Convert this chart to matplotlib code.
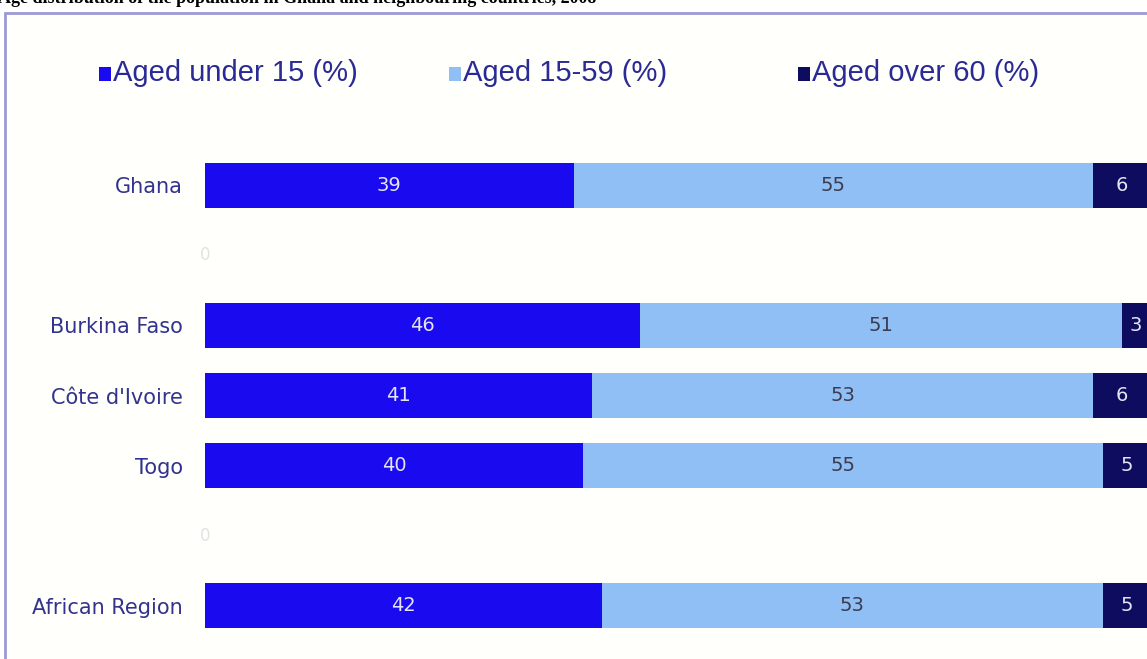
import matplotlib.pyplot as plt
from matplotlib.patches import Rectangle

# Data (blank rows are spacers in the original)
categories = ["Ghana", "", "Burkina Faso", "Côte d'Ivoire", "Togo", "", "African Region"]
under15 = [39, 0, 46, 41, 40, 0, 42]
aged15_59 = [55, 0, 51, 53, 55, 0, 53]
over60 = [6, 0, 3, 6, 5, 0, 5]
series_names = ["Aged under 15 (%)", "Aged 15-59 (%)", "Aged over 60 (%)"]
title = "Age distribution of the population in Ghana and neighbouring countries, 2008"

colors = ["#1a0af0", "#8fbff4", "#0e0c5e"]
value_colors = ["#e4e4f2", "#3c3c50", "#e4e4f2"]
label_color = "#2a2a96"

W, H = 1147, 659
fig = plt.figure(figsize=(W / 100, H / 100), dpi=100)
fig.patch.set_facecolor("white")

# chart frame (light purple border, cut by the image edges)
fig.patches.append(Rectangle((5 / W, -0.05), 1.1, 1 - 13 / H + 0.05, transform=fig.transFigure,
                             facecolor="#fffffb", edgecolor="#9c9ad6", lw=2.0, zorder=-5))

# title is cut by the top edge in the original too
fig.text(-2 / W, 1 - 3 / H, title, ha="left", va="baseline", fontsize=13,
         fontweight="bold", family="Liberation Serif", color="black")

ax = fig.add_axes([205 / W, 1 - 641 / H, 945 / W, 491 / H])
ax.set_zorder(5)
ax.set_facecolor("none")
ax.set_xlim(0, 100)
ax.set_ylim(len(categories) - 0.5, -0.5)

ypos = list(range(len(categories)))
h = 0.64
lefts = [0] * len(categories)
for vals, col, tcol in zip([under15, aged15_59, over60], colors, value_colors):
    bars = ax.barh(ypos, vals, left=lefts, height=h, color=col, edgecolor="none")
    for b, v in zip(bars, vals):
        if v > 0:
            ax.text(b.get_x() + b.get_width() / 2, b.get_y() + b.get_height() / 2, str(v),
                    ha="center", va="center", color=tcol, fontsize=14,
                    family="DejaVu Sans")
    lefts = [l + v for l, v in zip(lefts, vals)]

# faint zero labels on the spacer rows
for y, tot in zip(ypos, lefts):
    if tot == 0:
        ax.text(0, y, "0", ha="center", va="center", color="#e2e2e2", fontsize=12,
                family="DejaVu Sans")

ax.set_yticks(ypos)
ax.set_yticklabels(categories, fontsize=15, color="#33338f", family="DejaVu Sans")
ax.tick_params(axis="y", length=0, pad=16)
ax.set_xticks([])
for s in ax.spines.values():
    s.set_visible(False)

# legend across the top
leg_x = [99, 449, 798]
for x, name, col in zip(leg_x, series_names, colors):
    fig.patches.append(Rectangle((x / W, 1 - 81 / H), 12 / W, 14 / H, transform=fig.transFigure,
                                 facecolor=col, edgecolor="none"))
    fig.text((x + 14) / W, 1 - 73 / H, name, ha="left", va="center", fontsize=21,
             color=label_color, family="Liberation Sans")

fig.savefig("out.png", dpi=100)
